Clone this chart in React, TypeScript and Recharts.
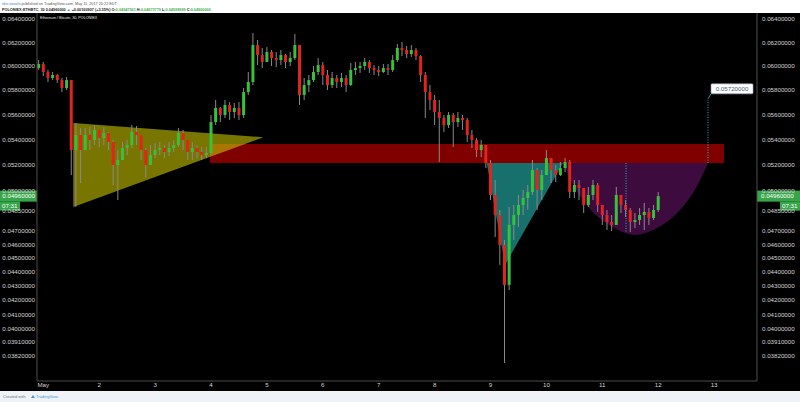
import React from "react";
import {
  ComposedChart, Bar, Area, XAxis, YAxis, ReferenceArea, ReferenceLine, ReferenceDot,
} from "recharts";

// POLONIEX:ETHBTC, resampled to 2-hour bars.
// Prices are in 1e-5 BTC; x axis counts days of May.
const FIRST_BAR = 1 - 2 / 24; // Apr 30, 22:00
const BAR_DAYS = 2 / 24;
const FIRST_OPEN = 5983;

const CLOSE = [
  6017, 5950, 5900, 5925, 5883, 5817, 5883, 5317, 5436, 5317,
  5436, 5396, 5476, 5412, 5452, 5381, 5200, 5239, 5333, 5357,
  5460, 5436, 5317, 5200, 5278, 5317, 5333, 5302, 5333, 5357,
  5452, 5396, 5302, 5333, 5302, 5278, 5294, 5540, 5654, 5597,
  5678, 5621, 5654, 5597, 5784, 5867, 6177, 6092, 6034, 6118,
  6067, 6050, 6092, 6034, 6067, 6177, 5760, 5842, 5883, 5950,
  6008, 5925, 5842, 5900, 5867, 5900, 5842, 5967, 5983, 6000,
  6034, 5983, 5967, 5950, 5983, 5967, 6050, 6152, 6135, 6101,
  6135, 6084, 5925, 5784, 5719, 5621, 5573, 5516, 5597, 5540,
  5573, 5556, 5436, 5396, 5317, 5357, 5215, 4969, 4817, 4595,
  4307, 4743, 4817, 4893, 4946, 4991, 5161, 5007, 5122, 5254,
  5161, 5122, 5176, 5223, 4991, 5045, 5022, 4893, 4969, 5045,
  4893, 4817, 4765, 4743, 4969, 4893, 4855, 4765, 4780, 4817,
  4840, 4795, 4855, 4960,
];
const HIGH = [
  6050, 6034, 5967, 5950, 5933, 5900, 5908, 5883, 5532, 5492,
  5492, 5500, 5516, 5476, 5500, 5460, 5396, 5317, 5381, 5396,
  5516, 5508, 5436, 5333, 5357, 5373, 5381, 5357, 5381, 5396,
  5492, 5476, 5396, 5381, 5357, 5341, 5341, 5597, 5719, 5662,
  5719, 5702, 5694, 5702, 5817, 5950, 6280, 6220, 6152, 6160,
  6135, 6118, 6135, 6101, 6118, 6271, 6177, 5900, 5925, 6000,
  6067, 6034, 5967, 5950, 5925, 5942, 5925, 6025, 6034, 6034,
  6067, 6050, 6008, 6000, 6017, 6017, 6092, 6186, 6203, 6169,
  6177, 6152, 6092, 5950, 5842, 5760, 5719, 5597, 5621, 5613,
  5621, 5597, 5573, 5476, 5412, 5396, 5357, 5239, 5084, 4855,
  4632, 4878, 4893, 4969, 5007, 5045, 5239, 5176, 5161, 5317,
  5254, 5200, 5223, 5254, 5239, 5084, 5084, 5022, 5030, 5084,
  5060, 4893, 4855, 4817, 5030, 4969, 4930, 4870, 4832, 4870,
  4908, 4870, 4893, 4991,
];
const LOW = [
  5967, 5917, 5867, 5883, 5859, 5784, 5801, 5122, 4878, 5060,
  5317, 5317, 5357, 5341, 5357, 5317, 5045, 4930, 5239, 5278,
  5333, 5357, 5239, 5099, 5200, 5254, 5278, 5254, 5270, 5302,
  5341, 5317, 5239, 5239, 5254, 5239, 5254, 5278, 5516, 5540,
  5573, 5556, 5573, 5556, 5573, 5760, 5842, 6008, 5983, 6034,
  6000, 5992, 6008, 5983, 6000, 6050, 5678, 5719, 5784, 5867,
  5925, 5842, 5801, 5817, 5817, 5825, 5784, 5834, 5925, 5942,
  5967, 5942, 5925, 5917, 5942, 5925, 5950, 6034, 6084, 6067,
  6076, 6050, 5867, 5573, 5637, 5516, 5223, 5460, 5492, 5341,
  5500, 5476, 5381, 5333, 5262, 5262, 5176, 4930, 4654, 4450,
  3771, 4271, 4632, 4728, 4817, 4855, 4969, 4855, 4930, 5122,
  5060, 5068, 5114, 5145, 4946, 4946, 4930, 4832, 4878, 4930,
  4840, 4743, 4705, 4698, 4743, 4832, 4802, 4691, 4720, 4743,
  4705, 4743, 4780, 4840,
];

const DAY_TICKS = [1, 2, 3, 4, 5, 6, 7, 8, 9, 10, 11, 12, 13];
const PRICE_TICKS = [
  0.064, 0.062, 0.06, 0.058, 0.056, 0.054, 0.052, 0.05, 0.0485, 0.047,
  0.046, 0.045, 0.044, 0.043, 0.042, 0.041, 0.04, 0.0391, 0.0382,
];
const X_DOMAIN = [0.8873, 13.767];
const Y_DOMAIN = [0.036523, 0.064523];

const LAST_PRICE = 0.0496;
const COUNTDOWN = "07:31";
const TARGET = 0.0572;

// drawings (x in days, y in 1e-5 BTC)
const FLAG_T = [1.5367, 4.9356];
const FLAG_LO = [4878, 5418];
const FLAG_HI = [5532, 5418];
const ZONE_T = [3.9821, 13.177];
const ZONE_LO = 5215;
const ZONE_HI = 5365;
const DROP_T = [8.932, 9.2594, 10.297];
const DROP_LO = [5215, 4450, 5215];
const CUP_T = [10.297, 10.5653, 10.9231, 11.2809, 11.585, 11.907, 12.2648, 12.6226, 12.8909];
const CUP_LO = [5215, 4984, 4802, 4705, 4669, 4705, 4802, 4984, 5215];
const MID_T = 11.424;
const MID_LO = 4691;
const TARGET_T = 12.8909;

const S = 1e5;
const FONT = "'Liberation Sans', Arial, sans-serif";
const GREEN = "#36c23a";
const RED = "#e3231c";
const WICK = "#8a8a8a";
const TAG = "#37a64a";
const DOTS = "#2bb7c4";
const AXIS_TEXT = "#d4d4d4";
const BODY_W = 3;

const bars = CLOSE.map((c, i) => {
  const open = (i === 0 ? FIRST_OPEN : CLOSE[i - 1]) / S;
  return {
    t: FIRST_BAR + i * BAR_DAYS,
    open,
    close: c / S,
    high: HIGH[i] / S,
    low: LOW[i] / S,
    range: [LOW[i] / S, HIGH[i] / S],
  };
});

const flagData = FLAG_T.map((t, i) => ({ t, band: [FLAG_LO[i] / S, FLAG_HI[i] / S] }));
const dropData = DROP_T.map((t, i) => ({ t, band: [DROP_LO[i] / S, ZONE_LO / S] }));
const cupData = CUP_T.map((t, i) => ({ t, band: [CUP_LO[i] / S, ZONE_LO / S] }));

// y axis is a sqrt scale, so pixel position is linear in sqrt(price)
function Candle(props: any) {
  const { x, y, width, height, payload } = props;
  if (!payload || y == null) return null;
  const top = Math.min(y, y + height);
  const h = Math.abs(height);
  const sh = Math.sqrt(payload.high);
  const sl = Math.sqrt(payload.low);
  const toY = (v: number) => (sh === sl ? top : top + (h * (sh - Math.sqrt(v))) / (sh - sl));
  const up = payload.close >= payload.open;
  const b1 = toY(Math.max(payload.open, payload.close));
  const b2 = toY(Math.min(payload.open, payload.close));
  const cx = x + (width || 0) / 2;
  return (
    <g>
      <line x1={cx} x2={cx} y1={top} y2={top + h} stroke={WICK} strokeWidth={1} />
      <rect x={cx - BODY_W / 2} y={b1} width={BODY_W} height={Math.max(1, b2 - b1)} fill={up ? GREEN : RED} />
    </g>
  );
}

function PriceTag({ viewBox }: any) {
  if (!viewBox) return null;
  const { x, y, width } = viewBox;
  const r = x + width;
  return (
    <g fontFamily={FONT} fontSize={6.2} fill="#fff">
      <rect x={x - 37} y={y - 5.5} width={37} height={11} fill={TAG} />
      <text x={x - 2} y={y + 2.2} textAnchor="end" fill="#fff">{LAST_PRICE.toFixed(8)}</text>
      <rect x={x - 37} y={y + 5.5} width={20} height={9} fill={TAG} />
      <text x={x - 35} y={y + 12.3} fill="#fff">{COUNTDOWN}</text>
      <rect x={r} y={y - 5.5} width={43} height={11} fill={TAG} />
      <text x={r + 4} y={y + 2.2} fill="#fff">{LAST_PRICE.toFixed(8)}</text>
      <rect x={r + 23} y={y + 5.5} width={20} height={9} fill={TAG} />
      <text x={r + 25} y={y + 12.3} fill="#fff">{COUNTDOWN}</text>
    </g>
  );
}

function TargetTag({ cx, cy }: any) {
  if (cx == null) return null;
  return (
    <g>
      <line x1={cx} y1={cy - 1} x2={cx + 3} y2={cy - 6} stroke={DOTS} strokeWidth={0.8} />
      <rect x={cx + 3} y={cy - 16} width={42} height={10} rx={1} fill="#fff" stroke="#8f9cab" strokeWidth={0.6} />
      <text x={cx + 24} y={cy - 8.7} textAnchor="middle" fontFamily={FONT} fontSize={6.2} fill="#4a6076">
        {TARGET.toFixed(8)}
      </text>
    </g>
  );
}

export default function App() {
  const tick = { fill: AXIS_TEXT, fontSize: 6.2, fontFamily: FONT };
  return (
    <div style={{ position: "fixed", left: 0, top: 0, width: 800, height: 402, background: "#000", overflow: "hidden" }}>
      <svg width={800} height={13} style={{ position: "absolute", left: 0, top: 0, background: "#fff" }}>
        <text x={2} y={4.8} fontFamily={FONT} fontSize={3.8} fill="#555">
          <tspan fill="#3a7fc1">ekn.tutoshi</tspan> published on TradingView.com, May 11, 2017 20:22 EDT
        </text>
        <text x={2} y={11} fontFamily={FONT} fontSize={3.8} fontWeight="bold" fill="#222">
          POLONIEX:ETHBTC, 30 <tspan fill="#222">0.04960000 </tspan>
          <tspan fill="#3bb24a">▲ </tspan>
          <tspan>+0.00160907 (+3.35%) O:</tspan><tspan fill="#3bb24a">0.04947561</tspan>
          <tspan> H:</tspan><tspan fill="#3bb24a">0.04973779</tspan>
          <tspan> L:</tspan><tspan fill="#3bb24a">0.04938999</tspan>
          <tspan> C:</tspan><tspan fill="#3bb24a">0.04960000</tspan>
        </text>
      </svg>

      <div style={{ position: "absolute", left: 0, top: 13 }}>
        <ComposedChart width={800} height={378} data={bars} margin={{ top: 0, right: 0, bottom: 0, left: 0 }}>
          <XAxis
            dataKey="t" type="number" domain={X_DOMAIN} allowDataOverflow ticks={DAY_TICKS} interval={0}
            height={10} tickLine={false} tickSize={0} tickMargin={1.5}
            axisLine={{ stroke: "#4d4d4d" }} tick={tick}
            tickFormatter={(v: number) => (v === 1 ? "May" : String(v))}
          />
          <YAxis
            yAxisId="l" orientation="left" type="number" scale="sqrt" domain={Y_DOMAIN} allowDataOverflow
            ticks={PRICE_TICKS} interval={0} width={37} tickLine={false} tickSize={0} tickMargin={2}
            axisLine={{ stroke: "#4d4d4d" }} tick={tick} tickFormatter={(v: number) => v.toFixed(8)}
          />
          <YAxis
            yAxisId="r" orientation="right" type="number" scale="sqrt" domain={Y_DOMAIN} allowDataOverflow
            ticks={PRICE_TICKS} interval={0} width={43} tickLine={false} tickSize={0} tickMargin={5}
            axisLine={{ stroke: "#4d4d4d" }} tick={tick} tickFormatter={(v: number) => v.toFixed(8)}
          />

          <Bar yAxisId="l" dataKey="range" barSize={3} shape={<Candle />} isAnimationActive={false} />

          <ReferenceArea
            yAxisId="l" x1={ZONE_T[0]} x2={ZONE_T[1]} y1={ZONE_LO / S} y2={ZONE_HI / S}
            fill="#ff0000" fillOpacity={0.5} stroke="none" ifOverflow="visible"
          />
          <Area
            yAxisId="l" data={flagData} dataKey="band" type="linear" stroke="none"
            fill="#c8c400" fillOpacity={0.6} dot={false} activeDot={false} isAnimationActive={false}
          />
          <Area
            yAxisId="l" data={dropData} dataKey="band" type="linear" stroke="none"
            fill="#30e0d8" fillOpacity={0.5} dot={false} activeDot={false} isAnimationActive={false}
          />
          <Area
            yAxisId="l" data={cupData} dataKey="band" type="natural" stroke="none"
            fill="#a01ea4" fillOpacity={0.38} dot={false} activeDot={false} isAnimationActive={false}
          />

          <ReferenceLine
            yAxisId="l" segment={[{ x: MID_T, y: ZONE_LO / S }, { x: MID_T, y: MID_LO / S }]}
            stroke={DOTS} strokeDasharray="1 1.5" strokeWidth={1}
          />
          <ReferenceLine
            yAxisId="l" segment={[{ x: TARGET_T, y: ZONE_LO / S }, { x: TARGET_T, y: TARGET }]}
            stroke={DOTS} strokeDasharray="1 1.5" strokeWidth={1}
          />
          <ReferenceDot
            yAxisId="l" x={TARGET_T} y={TARGET} r={1} ifOverflow="visible"
            shape={(p: any) => <TargetTag {...p} />}
          />
          <ReferenceLine
            yAxisId="l" y={LAST_PRICE} stroke="none" strokeOpacity={0} ifOverflow="visible"
            label={(p: any) => <PriceTag viewBox={p.viewBox} />}
          />
        </ComposedChart>
        <svg width={800} height={12} style={{ position: "absolute", left: 0, top: 0, pointerEvents: "none" }}>
          <text x={40} y={6} fontFamily={FONT} fontSize={3.7} fill="#e8e8e8">Ethereum / Bitcoin, 30, POLONIEX</text>
        </svg>
      </div>

      <svg width={800} height={11} style={{ position: "absolute", left: 0, top: 391, background: "#eff2f7" }}>
        <text x={3} y={7} fontFamily={FONT} fontSize={4} fill="#6b7785">Created with</text>
        <path d="M31 7 l2 -3 l2 3 z" fill="#3d9ad9" />
        <text x={36} y={7} fontFamily={FONT} fontSize={4} fill="#3d9ad9">TradingView</text>
      </svg>
    </div>
  );
}
